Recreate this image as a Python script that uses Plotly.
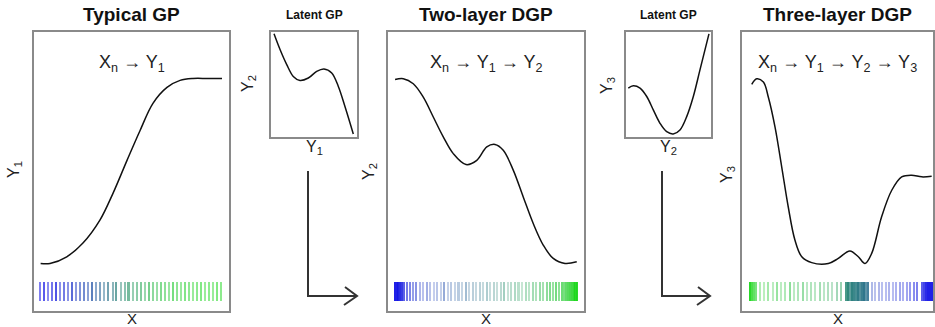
import plotly.graph_objects as go

W, H = 935, 327

# ---------------- data ----------------
# Panel 1: Typical GP  (X -> Y1)
p1_x = [0.034, 0.082, 0.168, 0.251, 0.338, 0.405, 0.477, 0.544, 0.610, 0.682, 0.749, 0.815, 0.890, 0.964]
p1_y = [0.170, 0.170, 0.194, 0.243, 0.325, 0.421, 0.539, 0.646, 0.743, 0.800, 0.825, 0.832, 0.832, 0.832]

# Latent GP 1 (Y1 -> Y2)
l1_x = [0.035, 0.105, 0.183, 0.259, 0.337, 0.434, 0.531, 0.616, 0.706, 0.783, 0.860, 0.957]
l1_y = [0.978, 0.829, 0.686, 0.574, 0.536, 0.559, 0.622, 0.645, 0.607, 0.479, 0.289, 0.029]

# Panel 2: Two-layer DGP
p2_x = [0.036, 0.078, 0.129, 0.180, 0.231, 0.282, 0.333, 0.398, 0.453, 0.504, 0.546, 0.588,
        0.639, 0.690, 0.741, 0.792, 0.843, 0.903, 0.963]
p2_y = [0.828, 0.831, 0.813, 0.765, 0.694, 0.623, 0.563, 0.524, 0.539, 0.587, 0.596, 0.575,
        0.504, 0.408, 0.313, 0.236, 0.188, 0.170, 0.176]

# Latent GP 2 (Y2 -> Y3)
l2_x = [0.027, 0.086, 0.165, 0.244, 0.321, 0.400, 0.479, 0.556, 0.635, 0.714, 0.792, 0.871, 0.976]
l2_y = [0.464, 0.486, 0.464, 0.384, 0.257, 0.130, 0.050, 0.029, 0.067, 0.193, 0.384, 0.638, 0.978]

# Panel 3: Three-layer DGP
p3_x = [0.051, 0.077, 0.112, 0.138, 0.173, 0.208, 0.242, 0.277, 0.313, 0.365, 0.452, 0.504,
        0.565, 0.609, 0.644, 0.679, 0.731, 0.784, 0.836, 0.888, 0.941, 0.993]
p3_y = [0.811, 0.831, 0.819, 0.765, 0.658, 0.515, 0.373, 0.254, 0.194, 0.173, 0.170, 0.188,
        0.215, 0.194, 0.170, 0.206, 0.337, 0.432, 0.480, 0.486, 0.480, 0.482]

# Rug strips: position along X, colour value (0 = blue, 1 = green), opacity
s1_x = [0.031, 0.052, 0.072, 0.093, 0.113, 0.134, 0.155, 0.176, 0.197, 0.217, 0.238, 0.259,
        0.279, 0.300, 0.321, 0.342, 0.362, 0.383, 0.404, 0.424, 0.445, 0.466, 0.486, 0.507,
        0.528, 0.548, 0.569, 0.590, 0.610, 0.631, 0.652, 0.672, 0.693, 0.714, 0.734, 0.755,
        0.776, 0.797, 0.817, 0.838, 0.859, 0.879, 0.900, 0.921, 0.941, 0.962]
s1_c = [0.00, 0.01, 0.02, 0.03, 0.05, 0.07, 0.09, 0.12, 0.15, 0.18, 0.21, 0.25,
        0.28, 0.32, 0.36, 0.40, 0.44, 0.48, 0.52, 0.56, 0.60, 0.63, 0.67, 0.70,
        0.73, 0.76, 0.79, 0.82, 0.84, 0.86, 0.88, 0.90, 0.92, 0.93, 0.94, 0.95,
        0.96, 0.97, 0.98, 0.98, 0.99, 0.99, 1.00, 1.00, 1.00, 1.00]
s1_o = [0.55, 0.70, 0.50, 0.60, 0.75, 0.50, 0.60, 0.50, 0.70, 0.50, 0.55, 0.60,
        0.50, 0.70, 0.50, 0.55, 0.45, 0.60, 0.50, 0.65, 0.45, 0.50, 0.60, 0.45,
        0.50, 0.55, 0.45, 0.60, 0.50, 0.45, 0.55, 0.50, 0.45, 0.60, 0.50, 0.45,
        0.55, 0.50, 0.45, 0.50, 0.55, 0.45, 0.50, 0.45, 0.55, 0.50]

s2_x = [0.036, 0.045, 0.054, 0.063, 0.072, 0.083, 0.097, 0.112, 0.128, 0.145,
        0.163, 0.181, 0.199, 0.217, 0.235, 0.253, 0.271, 0.289, 0.307, 0.325,
        0.343, 0.361, 0.379, 0.397, 0.415, 0.433, 0.451, 0.469, 0.487, 0.505,
        0.523, 0.541, 0.559, 0.577, 0.595, 0.613, 0.631, 0.649, 0.667, 0.685,
        0.703, 0.721, 0.739, 0.757, 0.775, 0.793, 0.811, 0.829, 0.845, 0.860,
        0.874, 0.887, 0.899, 0.910, 0.921, 0.931, 0.940, 0.949, 0.958, 0.966]
s2_c = [0.00, 0.00, 0.01, 0.02, 0.03, 0.05, 0.07, 0.09, 0.11, 0.13,
        0.15, 0.17, 0.19, 0.21, 0.23, 0.25, 0.27, 0.29, 0.31, 0.33,
        0.35, 0.37, 0.39, 0.41, 0.43, 0.45, 0.47, 0.49, 0.51, 0.53,
        0.55, 0.57, 0.59, 0.61, 0.63, 0.65, 0.67, 0.69, 0.71, 0.73,
        0.75, 0.77, 0.79, 0.81, 0.83, 0.85, 0.87, 0.89, 0.90, 0.91,
        0.92, 0.93, 0.94, 0.95, 0.96, 0.97, 0.98, 0.99, 1.00, 1.00]
s2_o = [0.95, 0.95, 0.95, 0.90, 0.85, 0.70, 0.60, 0.55, 0.45, 0.50,
        0.35, 0.30, 0.40, 0.30, 0.25, 0.30, 0.25, 0.45, 0.25, 0.30,
        0.25, 0.30, 0.25, 0.40, 0.25, 0.30, 0.25, 0.30, 0.25, 0.35,
        0.25, 0.30, 0.25, 0.30, 0.40, 0.25, 0.30, 0.35, 0.30, 0.25,
        0.35, 0.30, 0.40, 0.35, 0.45, 0.40, 0.50, 0.55, 0.45, 0.60,
        0.50, 0.65, 0.60, 0.70, 0.75, 0.80, 0.85, 0.90, 0.95, 0.95]

s3_x = [0.042, 0.052, 0.063, 0.073,
        0.094, 0.115, 0.136, 0.162, 0.183, 0.204, 0.225, 0.251, 0.272, 0.293,
        0.319, 0.340, 0.361, 0.382, 0.408, 0.429, 0.450, 0.471, 0.497, 0.518,
        0.545, 0.555, 0.565, 0.576, 0.586, 0.597, 0.607, 0.618, 0.628, 0.639, 0.649, 0.660,
        0.681, 0.699, 0.717, 0.736, 0.754, 0.772, 0.791, 0.809, 0.827, 0.846, 0.864, 0.882,
        0.901, 0.919,
        0.942, 0.953, 0.963, 0.974, 0.984, 0.995]
s3_c = [1.00, 1.00, 0.98, 0.97,
        0.95, 0.94, 0.93, 0.92, 0.91, 0.90, 0.89, 0.88, 0.87, 0.86,
        0.85, 0.84, 0.83, 0.82, 0.81, 0.80, 0.78, 0.76, 0.74, 0.72,
        0.60, 0.58, 0.56, 0.55, 0.54, 0.53, 0.52, 0.51, 0.50, 0.49, 0.48, 0.46,
        0.20, 0.18, 0.16, 0.14, 0.12, 0.11, 0.10, 0.09, 0.08, 0.07, 0.06, 0.05,
        0.04, 0.03,
        0.02, 0.01, 0.00, 0.00, 0.00, 0.00]
s3_o = [0.95, 0.80, 0.70, 0.60,
        0.35, 0.30, 0.40, 0.30, 0.45, 0.30, 0.35, 0.50, 0.30, 0.35,
        0.45, 0.30, 0.35, 0.30, 0.40, 0.30, 0.35, 0.30, 0.40, 0.45,
        0.80, 0.90, 0.70, 0.90, 0.85, 0.80, 0.90, 0.75, 0.85, 0.90, 0.70, 0.80,
        0.35, 0.30, 0.35, 0.30, 0.30, 0.35, 0.30, 0.35, 0.40, 0.35, 0.40, 0.45,
        0.50, 0.55,
        0.70, 0.80, 0.90, 0.95, 0.95, 0.95]

strip_base = 0.039
strip_height = 0.065

titles = ["Typical GP", "Latent GP", "Two-layer DGP", "Latent GP", "Three-layer DGP"]
flows = ["X<sub>n</sub> → Y<sub>1</sub>",
         "X<sub>n</sub> → Y<sub>1</sub> → Y<sub>2</sub>",
         "X<sub>n</sub> → Y<sub>1</sub> → Y<sub>2</sub> → Y<sub>3</sub>"]

# ---------------- layout geometry (pixels) ----------------
def xd(a, b):
    return [a / W, b / W]

def yd(top, bottom):
    return [(H - bottom) / H, (H - top) / H]

panels = [
    dict(x=xd(34, 229), y=yd(31.5, 311)),   # big 1
    dict(x=xd(271, 357), y=yd(31.5, 137)),  # latent 1
    dict(x=xd(388, 584), y=yd(31.5, 311)),  # big 2
    dict(x=xd(626, 711), y=yd(31.5, 137)),  # latent 2
    dict(x=xd(742, 933), y=yd(31.5, 311)),  # big 3
]

colorscale = [[0.0, "rgb(20,20,230)"], [0.5, "rgb(25,105,125)"], [1.0, "rgb(30,215,30)"]]

fig = go.Figure()
curves = [(p1_x, p1_y), (l1_x, l1_y), (p2_x, p2_y), (l2_x, l2_y), (p3_x, p3_y)]
strips = {0: (s1_x, s1_c, s1_o), 2: (s2_x, s2_c, s2_o), 4: (s3_x, s3_c, s3_o)}

for i, (cx, cy) in enumerate(curves):
    xa = "x" if i == 0 else f"x{i+1}"
    ya = "y" if i == 0 else f"y{i+1}"
    fig.add_trace(go.Scatter(x=cx, y=cy, mode="lines", xaxis=xa, yaxis=ya,
                             line=dict(color="#111", width=1.5, shape="spline", smoothing=1.0),
                             showlegend=False, hoverinfo="skip"))
    if i in strips:
        sx, sc, so = strips[i]
        fig.add_trace(go.Bar(x=sx, y=[strip_height] * len(sx), base=strip_base,
                             width=0.008, xaxis=xa, yaxis=ya,
                             marker=dict(color=sc, colorscale=colorscale, cmin=0, cmax=1,
                                         opacity=so, line=dict(width=0)),
                             showlegend=False, hoverinfo="skip"))

axis_common = dict(range=[0, 1], showgrid=False, zeroline=False, showticklabels=False,
                   ticks="", showline=True, mirror=True, linecolor="#8a8a8a", linewidth=1.5,
                   fixedrange=True)
layout = dict(width=W, height=H, margin=dict(l=0, r=0, t=0, b=0), autosize=False,
              paper_bgcolor="white", plot_bgcolor="white", bargap=0, barmode="overlay")
for i, p in enumerate(panels):
    xk = "xaxis" if i == 0 else f"xaxis{i+1}"
    yk = "yaxis" if i == 0 else f"yaxis{i+1}"
    xa = "x" if i == 0 else f"x{i+1}"
    ya = "y" if i == 0 else f"y{i+1}"
    layout[xk] = dict(axis_common, domain=p["x"], anchor=ya)
    layout[yk] = dict(axis_common, domain=p["y"], anchor=xa)
fig.update_layout(**layout)

font = "Liberation Sans, Arial, sans-serif"
ann = []

def px(x):
    return x / W

def py(y):
    return 1 - y / H

# titles
for i, p in enumerate(panels):
    cxp = (p["x"][0] + p["x"][1]) / 2
    big = i % 2 == 0
    ann.append(dict(text=f"<b>{titles[i]}</b>", x=cxp, y=py(15), xref="paper", yref="paper",
                    showarrow=False, xanchor="center", yanchor="middle",
                    font=dict(family=font, size=19 if big else 12, color="#111")))
# flow formulas
for j, i in enumerate([0, 2, 4]):
    p = panels[i]
    cxp = (p["x"][0] + p["x"][1]) / 2
    ann.append(dict(text=flows[j], x=cxp, y=py(64), xref="paper", yref="paper",
                    showarrow=False, xanchor="center", yanchor="middle",
                    font=dict(family=font, size=18, color="#222")))
# X labels under big panels
for i in [0, 2, 4]:
    p = panels[i]
    cxp = (p["x"][0] + p["x"][1]) / 2
    ann.append(dict(text="X", x=cxp, y=py(318), xref="paper", yref="paper",
                    showarrow=False, xanchor="center", yanchor="middle",
                    font=dict(family=font, size=15, color="#222")))
# latent x labels
for i, lab in [(1, "Y<sub>1</sub>"), (3, "Y<sub>2</sub>")]:
    p = panels[i]
    cxp = (p["x"][0] + p["x"][1]) / 2
    ann.append(dict(text=lab, x=cxp, y=py(147), xref="paper", yref="paper",
                    showarrow=False, xanchor="center", yanchor="middle",
                    font=dict(family=font, size=16, color="#222")))
# rotated y labels
for xpix, ypix, lab in [(15, 170, "Y<sub>1</sub>"), (248, 84, "Y<sub>2</sub>"),
                        (369, 172, "Y<sub>2</sub>"), (607, 86, "Y<sub>3</sub>"),
                        (727, 175, "Y<sub>3</sub>")]:
    ann.append(dict(text=lab, x=px(xpix), y=py(ypix), xref="paper", yref="paper",
                    showarrow=False, xanchor="center", yanchor="middle", textangle=-90,
                    font=dict(family=font, size=16, color="#222")))
fig.update_layout(annotations=ann)

# L-shaped arrows between panels
shapes = []
for vx, tip in [(308, 357), (662, 710)]:
    path = (f"M {px(vx)},{py(171)} L {px(vx)},{py(296)} L {px(tip)},{py(296)} "
            f"M {px(tip-12)},{py(287)} L {px(tip)},{py(296)} L {px(tip-13)},{py(305)}")
    shapes.append(dict(type="path", path=path, xref="paper", yref="paper",
                       line=dict(color="#333", width=2)))
fig.update_layout(shapes=shapes)

fig.write_html("out.html", config={"displayModeBar": False},
               post_script="document.body.style.margin='0';document.body.style.overflow='hidden';")
